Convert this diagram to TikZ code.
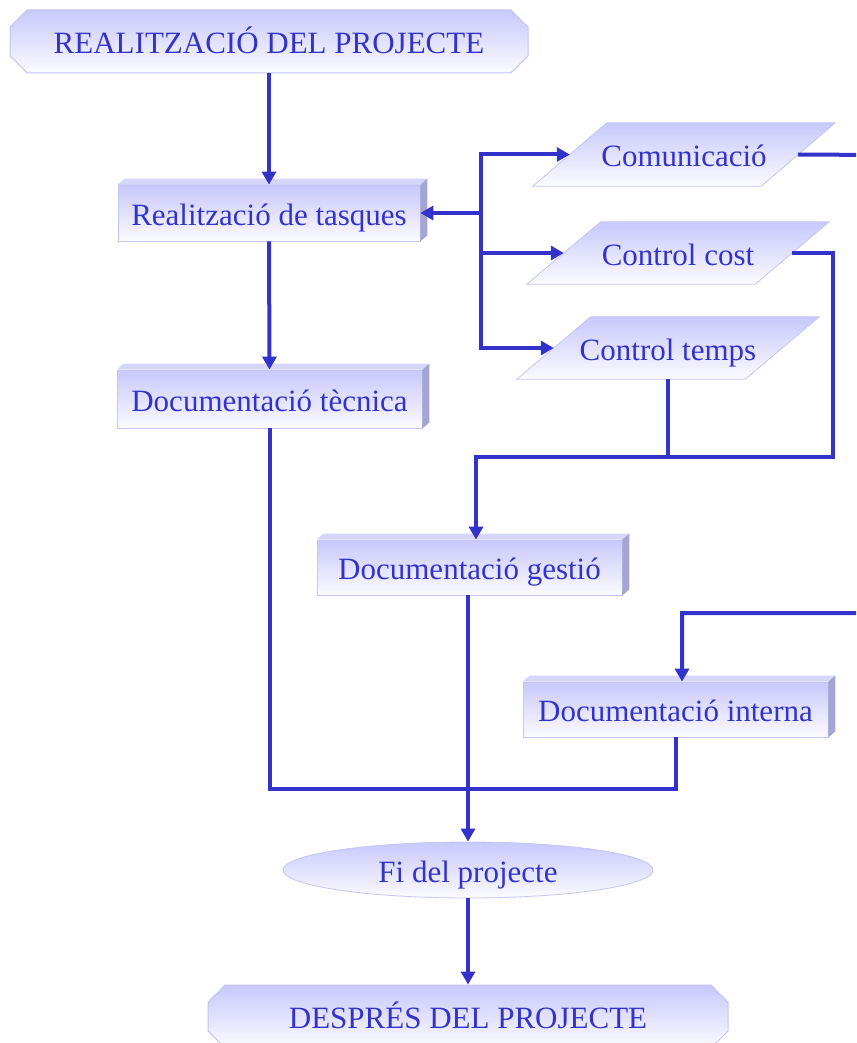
\documentclass[tikz,border=0pt]{standalone}
\usepackage{fontspec}
\setmainfont{Liberation Serif}
\usetikzlibrary{arrows.meta,shapes.geometric,shapes.misc,backgrounds,calc}

\definecolor{ink}{RGB}{51,51,204}
\definecolor{faceTop}{RGB}{200,200,252}
\definecolor{faceBot}{RGB}{251,251,255}
\definecolor{rim}{RGB}{196,196,245}
\definecolor{sideFace}{RGB}{165,165,212}
\definecolor{lidFace}{RGB}{214,214,250}

\tikzset{
  lbl/.style={text=ink, font=\fontsize{31}{36}\selectfont, inner sep=0pt,
    text height=30pt, text depth=6pt},
  banner/.style={lbl, chamfered rectangle, chamfered rectangle xsep=14pt,
    draw=rim, line width=1pt, top color=faceTop, bottom color=faceBot,
    minimum width=518pt, minimum height=63pt},
  block/.style={lbl, rectangle, draw=rim, line width=0.8pt,
    top color=faceTop, bottom color=faceBot, minimum width=303pt, minimum height=56pt},
  datanode/.style={lbl, rectangle, minimum width=228pt, minimum height=62pt},
  endnode/.style={lbl, ellipse, draw=rim, line width=0.8pt,
    top color=faceTop, bottom color=faceBot, minimum width=370pt, minimum height=56pt},
  conn/.style={draw=ink, line width=4pt},
  flow/.style={conn, -{Triangle[length=13pt,width=14pt]}},
}

% lid and side faces of a raised block
\newcommand\slabfaces[1]{%
  \fill[lidFace] (#1.north west) -- ++(7,-6) -- ($(#1.north east)+(7,-6)$) -- (#1.north east) -- cycle;
  \fill[sideFace] (#1.north east) -- ++(7,-6) -- ($(#1.south east)+(7,-6)$) -- (#1.south east) -- cycle;
}

\begin{document}
\begin{tikzpicture}[x=1pt,y=-1pt]
  \useasboundingbox (0,0) rectangle (856,1043);
  \begin{scope}[on background layer]
    \fill[white] (0,0) rectangle (856,1043);
  \end{scope}
  \clip (0,0) rectangle (856,1043);

  % phases
  \node[banner] (title) at (269,41.5) {REALITZACIÓ DEL PROJECTE};
  \node[banner, minimum width=520pt] (despres) at (468,1016.5) {DESPRÉS DEL PROJECTE};

  % task blocks
  \node[block, minimum width=302pt] (tasques) at (269,213) {Realització de tasques};
  \node[block, minimum width=305pt, minimum height=58pt] (tecnica) at (269.5,399) {Documentació tècnica};
  \node[block, minimum width=305pt, minimum height=55pt] (gestio) at (469.5,567.5) {Documentació gestió};
  \node[block, minimum width=305pt, minimum height=55pt] (interna) at (675.5,709.5) {Documentació interna};
  \slabfaces{tasques}
  \slabfaces{tecnica}
  \slabfaces{gestio}
  \slabfaces{interna}

  % data steps
  \node[datanode, minimum height=63pt] (com) at (684,154.5) {Comunicació};
  \node[datanode] (cost) at (678,253) {Control cost};
  \node[datanode] (temps) at (668,348) {Control temps};
  \begin{scope}[on background layer]
    \foreach \n in {com,cost,temps}{
      \path[top color=faceTop, bottom color=faceBot, draw=rim, line width=0.8pt]
        ($(\n.north west)+(37,0)$) -- ($(\n.north east)+(37,0)$) --
        ($(\n.south east)+(-37,0)$) -- ($(\n.south west)+(-37,0)$) -- cycle;
    }
  \end{scope}

  % end
  \node[endnode] (fi) at (468,870) {Fi del projecte};

  % junction points
  \coordinate (bus) at (481,213);
  \coordinate (jc) at (833,457);
  \coordinate (jg) at (476,457);
  \coordinate (out) at (880,155);
  \coordinate (ji) at (682,613);
  \coordinate (jm) at (468,789);

  % connectors
  \draw[flow] (title.south) -- (tasques.north);
  \draw[flow] (tasques.south) -- (tecnica.north);
  \draw[flow] (bus) -- (tasques.east);
  \draw[flow] (bus) |- (com.west);
  \draw[flow] (bus) |- (cost.west);
  \draw[flow] (bus) |- (temps.west);
  \draw[flow] (cost.east) -| (jc) -- (jg) -- (gestio.north -| jg);
  \draw[conn] (temps.south) -- (temps.south |- jc);
  \draw[flow] (com.east) -- (out) |- (ji) -- (interna.north -| ji);
  \draw[conn] (tecnica.south) |- (jm);
  \draw[conn] (interna.south) |- (jm);
  \draw[flow] (gestio.south -| fi.north) -- (fi.north);
  \draw[flow] (fi.south) -- (despres.north);
\end{tikzpicture}
\end{document}
